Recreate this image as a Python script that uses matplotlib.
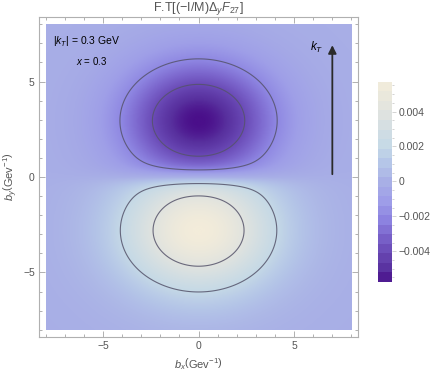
import numpy as np
import matplotlib.pyplot as plt
from matplotlib.colors import LinearSegmentedColormap

plt.rcParams['font.family'] = ['Liberation Sans', 'DejaVu Sans']
plt.rcParams['mathtext.fontset'] = 'custom'
plt.rcParams['mathtext.rm'] = 'Liberation Sans'
plt.rcParams['mathtext.it'] = 'Liberation Sans:italic'

# lobe parameters (b in GeV^-1)
lobe_amp = [-0.00576, 0.0057]      # peak values of upper / lower lobe
lobe_yc = [2.95, -2.8]             # peak positions on the b_y axis
lobe_sx = [4.0, 4.0]               # widths along b_x
lobe_sy = [3.15, 3.15]             # widths along b_y
edge_eps = 0.45                    # sharpness of the sign change at b_y = 0

contour_levels = [-0.004, -0.002, 0.002, 0.004]
cbar_ticks = [-0.004, -0.002, 0, 0.002, 0.004]
cbar_range = [-0.00576, 0.0057]
axis_ticks = [-5, 0, 5]

# colour map sampled from the legend, bottom to top
cmap_colors = ["#4a0f8a", "#58309e", "#6a4ab6", "#7b65cc", "#8e86e2",
               "#9f9fe8", "#a8aee6", "#b4c5e8", "#c5d9e6", "#e0e3df", "#f3ecda"]
cmap_pos = [0.0, 0.06, 0.15, 0.23, 0.32, 0.41, 0.5, 0.59, 0.68, 0.85, 1.0]
cmap = LinearSegmentedColormap.from_list("ft", list(zip(cmap_pos, cmap_colors)))

bx = np.linspace(-8, 8, 401)
by = np.linspace(-8, 8, 401)
X, Y = np.meshgrid(bx, by)
Z = np.zeros_like(X)
for a, yc, sx, sy in zip(lobe_amp, lobe_yc, lobe_sx, lobe_sy):
    side = np.clip(np.tanh(np.sign(yc) * Y / edge_eps), 0, 1)
    Z += a * side * np.exp(-X**2 / sx**2) * np.exp(-(Y - yc)**2 / sy**2)

fig = plt.figure(figsize=(4.36, 3.79), dpi=100)
ax = fig.add_axes([0.0894, 0.111, 0.732, 0.844])
gray = "#555555"
frame = "#b0b0b0"

im = ax.imshow(Z, extent=[-8, 8, -8, 8], origin="lower", cmap=cmap,
               vmin=cbar_range[0], vmax=cbar_range[1], interpolation="bilinear")
ax.contour(X, Y, Z, levels=contour_levels, colors="#55536a", linewidths=0.8,
           alpha=0.85, linestyles="solid")

ax.set_xlim(-8.35, 8.35)
ax.set_ylim(-8.38, 8.38)
ax.set_xticks(axis_ticks)
ax.set_yticks(axis_ticks)
ax.set_xticks(np.arange(-8, 9, 1), minor=True)
ax.set_yticks(np.arange(-8, 9, 1), minor=True)
ax.tick_params(which="both", direction="in", top=True, right=True, color=frame,
               labelcolor=gray, labelsize=7.5, width=0.7, pad=3)
ax.tick_params(which="major", length=4)
ax.tick_params(which="minor", length=2)
for s in ax.spines.values():
    s.set_color(frame)
    s.set_linewidth(0.8)
ax.set_aspect("auto")

ax.set_title(r"F.T[($-$I/M)$\Delta_y F_{27}$]", color=gray, fontsize=9, pad=3)
ax.set_xlabel(r"$b_x\left(\mathrm{Gev}^{-1}\right)$", color=gray, fontsize=8, labelpad=4)
ax.set_ylabel(r"$b_y\left(\mathrm{Gev}^{-1}\right)$", color=gray, fontsize=8, labelpad=2)

ax.text(-7.6, 7.1, r"$\left|k_T\right|$ = 0.3 GeV", fontsize=7.5, va="center")
ax.text(-6.4, 6.1, r"$x$ = 0.3", fontsize=7, va="center")
ax.annotate("", xy=(7.0, 7.05), xytext=(7.0, 0.0),
            arrowprops=dict(arrowstyle="-|>", color="#2a2a2a", lw=1.3,
                            mutation_scale=12))
ax.text(6.2, 6.8, r"$k_T$", fontsize=8.5, ha="center", va="center")

cax = fig.add_axes([0.867, 0.256, 0.032, 0.528])
cb = fig.colorbar(im, cax=cax, boundaries=np.linspace(cbar_range[0], cbar_range[1], 22))
cb.set_ticks(cbar_ticks)
cb.set_ticklabels(["\u22120.004", "\u22120.002", "0", "0.002", "0.004"])
cb.ax.tick_params(labelsize=7.5, labelcolor=gray, color="#cccccc", length=3, width=0.6, pad=2)
cb.ax.minorticks_on()
cb.ax.tick_params(which="minor", length=1.5, color="#cccccc")
cb.outline.set_visible(False)

fig.savefig("out.png", dpi=100)
